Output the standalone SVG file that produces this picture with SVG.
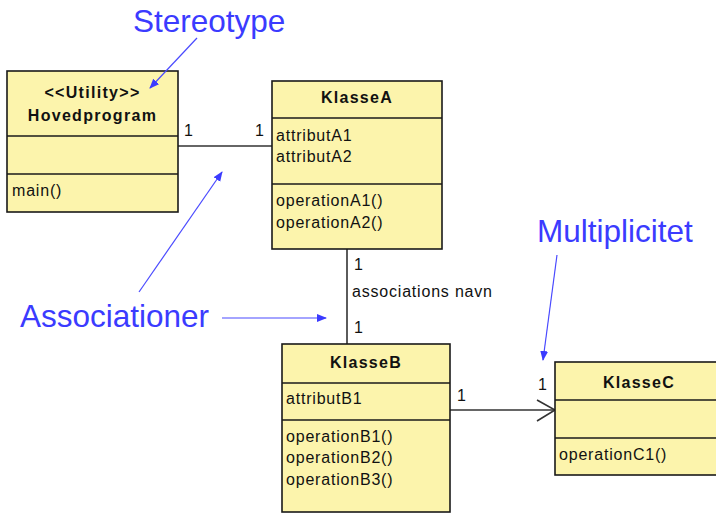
<svg xmlns="http://www.w3.org/2000/svg" width="716" height="514" viewBox="0 0 716 514">
  <style>
    .box { fill: #fcf4ac; stroke: #1a1a1a; stroke-width: 1.6; }
    .sep { stroke: #1a1a1a; stroke-width: 1.6; fill: none; }
    .t { font-family: "Liberation Sans", Arial, sans-serif; font-size: 16px; letter-spacing: 0.8px; fill: #111; }
    .b { font-weight: bold; letter-spacing: 1.3px; text-anchor: middle; }
    .assoc { stroke: #333; stroke-width: 1.6; fill: none; }
    .note { font-family: "Liberation Sans", Arial, sans-serif; font-size: 31.5px; fill: #3b3bff; }
    .pointer { stroke: #4a4aff; stroke-width: 1.2; fill: none; marker-end: url(#tip); }
  </style>
  <defs>
    <marker id="tip" viewBox="0 0 10 10" refX="9" refY="5" markerWidth="10" markerHeight="10" markerUnits="userSpaceOnUse" orient="auto">
      <path d="M0,1 L10,5 L0,9 z" fill="#3b3bff"/>
    </marker>
  </defs>
  <rect width="716" height="514" fill="#ffffff"/>

  <!-- connectors -->
  <g id="connectors">
    <line class="assoc" x1="178" y1="146" x2="272" y2="146"/>
    <text class="t" x="184" y="136">1</text>
    <text class="t" x="255" y="136">1</text>

    <line class="assoc" x1="347" y1="249" x2="347" y2="344"/>
    <text class="t" x="354" y="270">1</text>
    <text class="t" x="352" y="297">associations navn</text>
    <text class="t" x="354" y="333">1</text>

    <line class="assoc" x1="450" y1="410" x2="555" y2="410"/>
    <polyline class="assoc" points="537,400 555,410 537,421"/>
    <text class="t" x="457" y="401">1</text>
    <text class="t" x="538" y="390">1</text>
  </g>

  <!-- Hovedprogram -->
  <g id="hovedprogram">
    <rect class="box" x="7" y="71" width="171" height="141"/>
    <line class="sep" x1="7" y1="136" x2="178" y2="136"/>
    <line class="sep" x1="7" y1="174" x2="178" y2="174"/>
    <text class="t b" x="92.5" y="98">&lt;&lt;Utility&gt;&gt;</text>
    <text class="t b" x="92.5" y="121">Hovedprogram</text>
    <text class="t" x="12" y="196">main()</text>
  </g>

  <!-- KlasseA -->
  <g id="klasseA">
    <rect class="box" x="272" y="81" width="170" height="168"/>
    <line class="sep" x1="272" y1="118" x2="442" y2="118"/>
    <line class="sep" x1="272" y1="184" x2="442" y2="184"/>
    <text class="t b" x="357" y="103">KlasseA</text>
    <text class="t" x="276" y="141">attributA1</text>
    <text class="t" x="276" y="162">attributA2</text>
    <text class="t" x="276" y="206">operationA1()</text>
    <text class="t" x="276" y="228">operationA2()</text>
  </g>

  <!-- KlasseB -->
  <g id="klasseB">
    <rect class="box" x="282" y="344" width="168" height="168"/>
    <line class="sep" x1="282" y1="383" x2="450" y2="383"/>
    <line class="sep" x1="282" y1="420" x2="450" y2="420"/>
    <text class="t b" x="366" y="368">KlasseB</text>
    <text class="t" x="286" y="404">attributB1</text>
    <text class="t" x="286" y="442">operationB1()</text>
    <text class="t" x="286" y="463">operationB2()</text>
    <text class="t" x="286" y="485">operationB3()</text>
  </g>

  <!-- KlasseC -->
  <g id="klasseC">
    <rect class="box" x="555" y="362" width="168" height="113"/>
    <line class="sep" x1="555" y1="400" x2="723" y2="400"/>
    <line class="sep" x1="555" y1="438" x2="723" y2="438"/>
    <text class="t b" x="639" y="388">KlasseC</text>
    <text class="t" x="559" y="460">operationC1()</text>
  </g>

  <!-- annotations -->
  <g id="annotations">
    <text class="note" x="133" y="32">Stereotype</text>
    <line class="pointer" x1="197" y1="38" x2="150" y2="88"/>

    <text class="note" x="20" y="327">Associationer</text>
    <line class="pointer" x1="139" y1="292" x2="222" y2="172"/>
    <line class="pointer" x1="222" y1="318" x2="326" y2="318"/>

    <text class="note" x="537" y="242">Multiplicitet</text>
    <line class="pointer" x1="557" y1="255" x2="543" y2="360"/>
  </g>
</svg>
